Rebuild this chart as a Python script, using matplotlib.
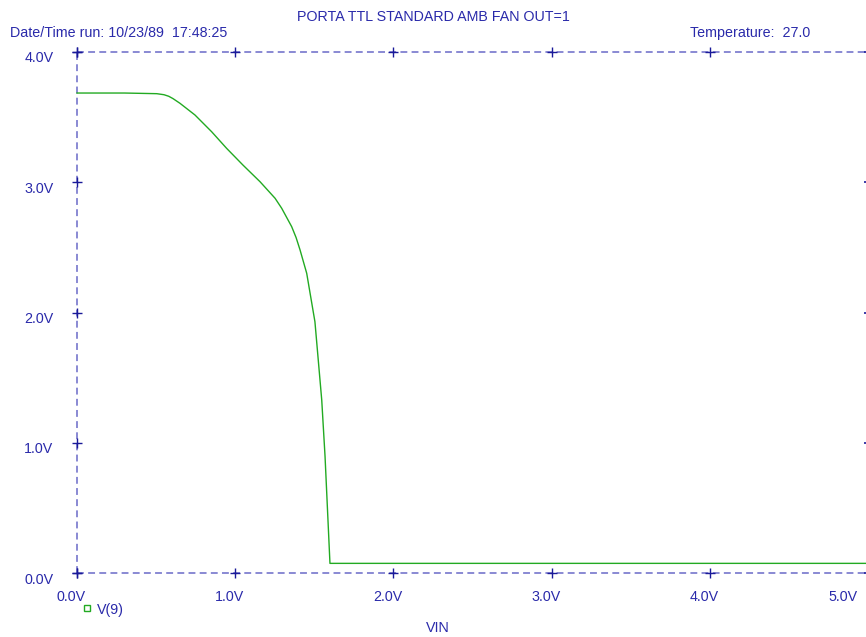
import matplotlib
matplotlib.use("Agg")
import matplotlib.pyplot as plt
from matplotlib.transforms import ScaledTranslation

# ---- data ----
vin = [0.00, 0.30, 0.504, 0.55, 0.58, 0.607, 0.651, 0.746, 0.851, 0.946, 1.049, 1.157, 1.252,
       1.294, 1.357, 1.385, 1.410, 1.452, 1.504, 1.547, 1.568, 1.599, 1.62, 3.0, 5.0]
v9 = [3.685, 3.685, 3.680, 3.672, 3.660, 3.642, 3.606, 3.516, 3.388, 3.260, 3.132, 3.004, 2.877,
      2.800, 2.659, 2.575, 2.480, 2.301, 1.929, 1.328, 0.893, 0.074, 0.074, 0.074, 0.074]
xticks = [0, 1, 2, 3, 4, 5]
xticklabels = ["0.0V", "1.0V", "2.0V", "3.0V", "4.0V", "5.0V"]
yticks = [0, 1, 2, 3, 4]
yticklabels = ["0.0V", "1.0V", "2.0V", "3.0V", "4.0V"]
title = "PORTA TTL STANDARD AMB FAN OUT=1"
left_header = "Date/Time run: 10/23/89  17:48:25"
right_header = "Temperature:  27.0"
xlabel = "VIN"
trace_name = "V(9)"

# ---- style ----
TXT = "#2a2aaa"
DASH = "#6a6ac8"
TICK = "#1a1a99"
GREEN = "#22aa22"
plt.rcParams['font.family'] = ['Liberation Sans', 'DejaVu Sans']
FS = 10.3

W, H = 866, 637
fig = plt.figure(figsize=(W / 100, H / 100), dpi=100)
ax = fig.add_axes([77 / W, (H - 573) / H, (868 - 77) / W, (573 - 52) / H])
ax.set_xlim(0, 5)
ax.set_ylim(0, 4)
for s in ax.spines.values():
    s.set_visible(False)

# dashed border lines
dash = dict(color=DASH, lw=1.1, ls=(0, (4.5, 2.8)), clip_on=False, zorder=1)
ax.axhline(0, **dash)
ax.axhline(4, **dash)
ax.axvline(0, **dash)

# + tick marks
pm = dict(ls='none', marker='+', ms=7.5, mew=1.0, color=TICK, clip_on=False, zorder=3)
ax.plot(xticks[:-1], [0] * (len(xticks) - 1), **pm)
ax.plot(xticks[:-1], [4] * (len(xticks) - 1), **pm)
ax.plot([0] * len(yticks), yticks, **pm)
ax.plot([5] * len(yticks), yticks, ls='none', marker=0, ms=3, mew=1.2,
        color=TICK, clip_on=False, zorder=3)

# trace
ax.plot(vin, v9, color=GREEN, lw=1.0, zorder=2, clip_on=False)

# ticks / labels
ax.set_xticks(xticks, xticklabels)
ax.set_yticks(yticks, yticklabels)
ax.tick_params(axis='both', length=0, labelsize=FS, labelcolor=TXT)
ax.tick_params(axis='x', pad=12)
ax.tick_params(axis='y', pad=17)
for i, lab in enumerate(ax.get_xticklabels()):
    dx = -25 if i == len(xticks) - 1 else -6
    lab.set_transform(lab.get_transform() + ScaledTranslation(dx / 100, 0, fig.dpi_scale_trans))
for lab in ax.get_yticklabels():
    lab.set_transform(lab.get_transform() + ScaledTranslation(0, -5 / 100, fig.dpi_scale_trans))

# header texts
fig.text(433 / W, 1 - 17 / H, title, ha='center', va='center', fontsize=FS, color=TXT)
fig.text(10 / W, 1 - 33 / H, left_header, ha='left', va='center', fontsize=FS, color=TXT)
fig.text(690 / W, 1 - 33 / H, right_header, ha='left', va='center', fontsize=FS, color=TXT)
fig.text(438 / W, 1 - 628 / H, xlabel, ha='center', va='center', fontsize=FS, color=TXT)

# legend
fig.lines.append(plt.Line2D([87 / W], [1 - 608 / H], transform=fig.transFigure, ls='none',
                            marker='s', ms=5, mfc='none', mec=GREEN, mew=1.0))
fig.text(97 / W, 1 - 610 / H, trace_name, ha='left', va='center', fontsize=FS, color=TXT)

fig.savefig("out.png", dpi=100)
